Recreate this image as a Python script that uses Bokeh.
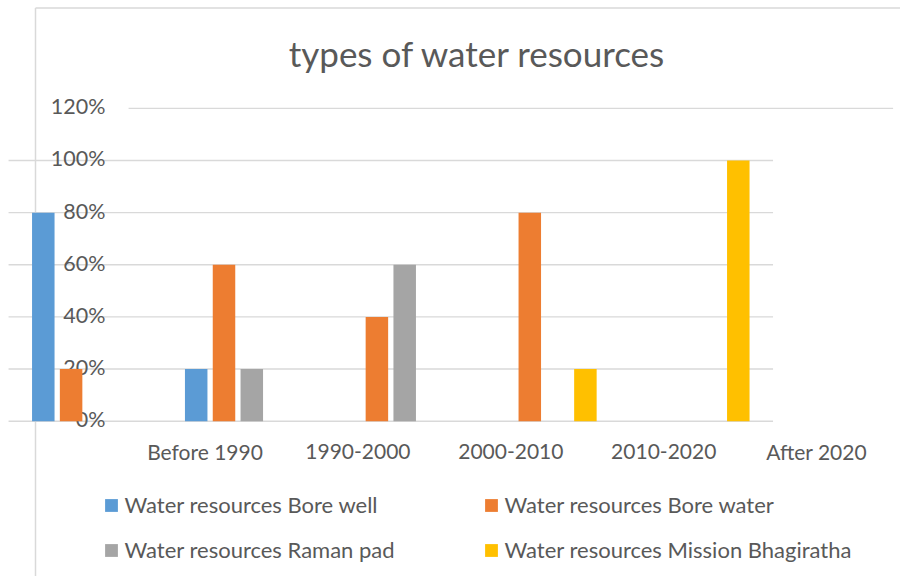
from bokeh.plotting import figure
from bokeh.models import ColumnDataSource, Range1d, Legend, LegendItem
from bokeh.transform import dodge
from bokeh.core.properties import value
from bokeh.embed import file_html
from bokeh.resources import INLINE

# ---------------- data ----------------
categories = ["Before 1990", "1990-2000", "2000-2010", "2010-2020", "After 2020"]
bore_well = [0.8, 0.2, 0.0, 0.0, 0.0]
bore_water = [0.2, 0.6, 0.4, 0.8, 0.0]
raman_pad = [0.0, 0.2, 0.6, 0.0, 0.0]
mission_bhagiratha = [0.0, 0.0, 0.0, 0.2, 1.0]
series_names = [
    "Water resources Bore well",
    "Water resources Bore water",
    "Water resources Raman pad",
    "Water resources Mission Bhagiratha",
]
y_ticks = [0.0, 0.2, 0.4, 0.6, 0.8, 1.0, 1.2]
y_tick_labels = ["0%", "20%", "40%", "60%", "80%", "100%", "120%"]
title_text = "types of water resources"

# ---------------- layout / style ----------------
W, H = 900, 576
CAT_PX = 152.9          # pixels per category
FIRST_CAT_PX = 84.5     # pixel column of the first category centre
PX_PER_UNIT_Y = 260.7   # pixels per 100 %
ZERO_Y_PX = 420.7       # pixel row of 0 %
SHIFT = 0.785           # offset of the (displaced) category labels / top gridline
BASE_CORR = 0.47        # empirical baseline correction (fraction of font size)

FONT = "Lato"
TXT = "#595959"
GRID = "#D9D9D9"
colors = ["#5B9BD5", "#ED7D31", "#A5A5A5", "#FFC000"]

TICK_FS, CAT_FS, TITLE_FS, LEG_FS = 21.5, 21, 35, 22


def px_to_x(px):
    return (px - FIRST_CAT_PX) / CAT_PX


def px_to_y(py):
    return (ZERO_Y_PX - py) / PX_PER_UNIT_Y


x_start, x_end = px_to_x(0), px_to_x(W)
y_top, y_bot = px_to_y(0), px_to_y(H)

p = figure(width=W, height=H, output_backend="svg", toolbar_location=None,
           x_range=Range1d(x_start, x_end), y_range=Range1d(y_bot, y_top),
           x_axis_type=None, y_axis_type=None, min_border=0,
           outline_line_color=None, background_fill_color="white",
           border_fill_color="white")
p.grid.visible = False

# chart border (top + left visible)
p.segment(x0=[px_to_x(35)], x1=[px_to_x(35)], y0=[y_bot], y1=[px_to_y(7.5)],
          line_color=GRID, line_width=1.5)
p.segment(x0=[px_to_x(35)], x1=[x_end], y0=[px_to_y(7.5)], y1=[px_to_y(7.5)],
          line_color=GRID, line_width=1.5)

# gridlines
n = len(categories)
gx0 = [-0.5 if t < 1.1 else -0.5 + SHIFT for t in y_ticks]
gx1 = [n - 0.5 if t < 1.1 else n - 0.5 + SHIFT for t in y_ticks]
p.segment(x0=gx0, x1=gx1, y0=y_ticks, y1=y_ticks, line_color=GRID, line_width=1.4)

# y tick labels
tick_dy = (8 - BASE_CORR * TICK_FS) / PX_PER_UNIT_Y
p.text(x=[px_to_x(105)] * len(y_ticks), y=[t - tick_dy for t in y_ticks],
       text=y_tick_labels, text_align="right", text_baseline="alphabetic",
       text_font=value(FONT), text_font_size=f"{TICK_FS}px", text_color=TXT)

# category labels (displaced as in the reference)
p.text(x=[i + SHIFT for i in range(n)], y=[px_to_y(460.7 - BASE_CORR * CAT_FS)] * n,
       text=categories, text_align="center", text_baseline="alphabetic",
       text_font=value(FONT), text_font_size=f"{CAT_FS}px", text_color=TXT)

# title
p.text(x=[px_to_x(477)], y=[px_to_y(69 - BASE_CORR * TITLE_FS)], text=[title_text],
       text_align="center", text_baseline="alphabetic", text_font=value(FONT),
       text_font_size=f"{TITLE_FS}px", text_color=TXT)

# bars
src = ColumnDataSource(dict(x=list(range(n)), bw=bore_well, bwa=bore_water,
                            rp=raman_pad, mb=mission_bhagiratha))
bar_w = 22.5 / CAT_PX
pitch = 27.8 / CAT_PX
renderers = []
for k, col in enumerate(["bw", "bwa", "rp", "mb"]):
    off = (k - 1.5) * pitch
    r = p.vbar(x=dodge("x", off, range=p.x_range), top=col, bottom=0, width=bar_w,
               source=src, fill_color=colors[k], line_color=None)
    renderers.append(r)

# legends (2 x 2 grid)
leg_pos = [(102.5, 58), (482.5, 58), (102.5, 13), (482.5, 13)]
for k in range(4):
    leg = Legend(items=[LegendItem(label=series_names[k], renderers=[renderers[k]])],
                 location=leg_pos[k], padding=0, margin=0, border_line_alpha=0,
                 background_fill_alpha=0, glyph_width=16, glyph_height=16,
                 label_standoff=6, label_text_font=FONT,
                 label_text_font_size=f"{LEG_FS}px", label_text_color=TXT)
    p.add_layout(leg)

open("out.html", "w").write(file_html(p, INLINE))
